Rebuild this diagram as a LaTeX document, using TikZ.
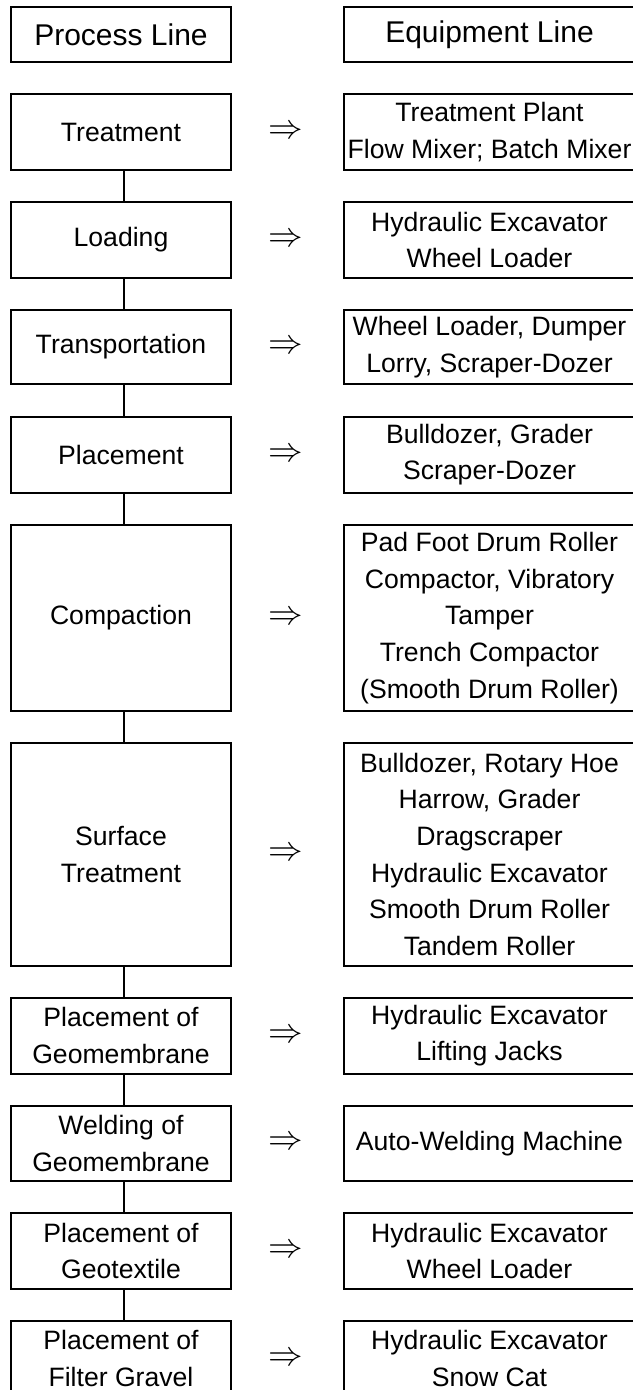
\documentclass[tikz,border=0pt]{standalone}
\usepackage{fontspec}
\setmainfont{Liberation Sans}
\begin{document}
\begin{tikzpicture}[x=0.5pt,y=-0.5pt,
  lbox/.style={draw, line width=1pt, minimum width=110pt, inner sep=0pt, align=center,
    font=\fontsize{13.3}{18.35}\selectfont},
  rbox/.style={minimum width=145.5pt, inner sep=0pt, outer sep=0pt, align=center,
    font=\fontsize{13.3}{18.35}\selectfont},
  hdr/.style={font=\fontsize{15}{18}\selectfont},
  arr/.style={inner sep=0pt, font=\fontsize{17}{20}\selectfont},
  link/.style={line width=1pt, line join=miter}]
\useasboundingbox (0,0) rectangle (632,1390);
% headers
\node[lbox, hdr, minimum height=27.8pt] (hp) at (121,34.5) {Process Line};
\node[rbox, hdr, minimum height=27.8pt] (he) at (489.5,34.5) {Equipment Line};
% process boxes
\node[lbox, minimum height=37.7pt] (p1) at (121,132) {Treatment};
\node[lbox, minimum height=37.85pt] (p2) at (121,239.85) {Loading};
\node[lbox, minimum height=37pt] (p3) at (121,347) {Transportation};
\node[lbox, minimum height=38pt] (p4) at (121,454.7) {Placement};
\node[lbox, minimum height=92.85pt] (p5) at (121,617.85) {Compaction};
\node[lbox, minimum height=111.65pt] (p6) at (121,854.35) {Surface\\Treatment};
\node[lbox, minimum height=38pt] (p7) at (121,1035.7) {Placement of\\Geomembrane};
\node[lbox, minimum height=37.5pt] (p8) at (121,1143.2) {Welding of\\Geomembrane};
\node[lbox, minimum height=37.85pt] (p9) at (121,1250.85) {Placement of\\Geotextile};
\node[lbox, minimum height=37.75pt] (p10) at (121,1358.75) {Placement of\\Filter Gravel};
% equipment boxes (right side runs off the page)
\node[rbox, minimum height=37.7pt] (e1) at (489.5,132) {Treatment Plant\\Flow Mixer; Batch Mixer};
\node[rbox, minimum height=37.85pt] (e2) at (489.5,239.85) {Hydraulic Excavator\\Wheel Loader};
\node[rbox, minimum height=37pt] (e3) at (489.5,347) {Wheel Loader, Dumper\\Lorry, Scraper-Dozer};
\node[rbox, minimum height=38pt] (e4) at (489.5,454.7) {Bulldozer, Grader\\Scraper-Dozer};
\node[rbox, minimum height=92.85pt] (e5) at (489.5,617.85) {Pad Foot Drum Roller\\Compactor, Vibratory\\Tamper\\Trench Compactor\\(Smooth Drum Roller)};
\node[rbox, minimum height=111.65pt] (e6) at (489.5,854.35) {Bulldozer, Rotary Hoe\\Harrow, Grader\\Dragscraper\\Hydraulic Excavator\\Smooth Drum Roller\\Tandem Roller};
\node[rbox, minimum height=38pt] (e7) at (489.5,1035.7) {Hydraulic Excavator\\Lifting Jacks};
\node[rbox, minimum height=37.5pt] (e8) at (489.5,1143.2) {Auto-Welding Machine};
\node[rbox, minimum height=37.85pt] (e9) at (489.5,1250.85) {Hydraulic Excavator\\Wheel Loader};
\node[rbox, minimum height=37.75pt] (e10) at (489.5,1358.75) {Hydraulic Excavator\\Snow Cat};
\foreach \n in {he,e1,e2,e3,e4,e5,e6,e7,e8,e9,e10}{
  \draw[link] ([xshift=6pt]\n.north east) -- (\n.north west) -- (\n.south west) -- ([xshift=6pt]\n.south east);
}
% arrows
\foreach \i in {1,...,10}{
  \node[arr] (a\i) at ([xshift=82.5pt]p\i.center) {$\Rightarrow$};
}
% connectors
\foreach \i/\j in {1/2,2/3,3/4,4/5,5/6,6/7,7/8,8/9,9/10}{
  \draw[link] ([xshift=1.5pt]p\i.south) -- ([xshift=1.5pt]p\j.north);
}
\end{tikzpicture}
\end{document}
